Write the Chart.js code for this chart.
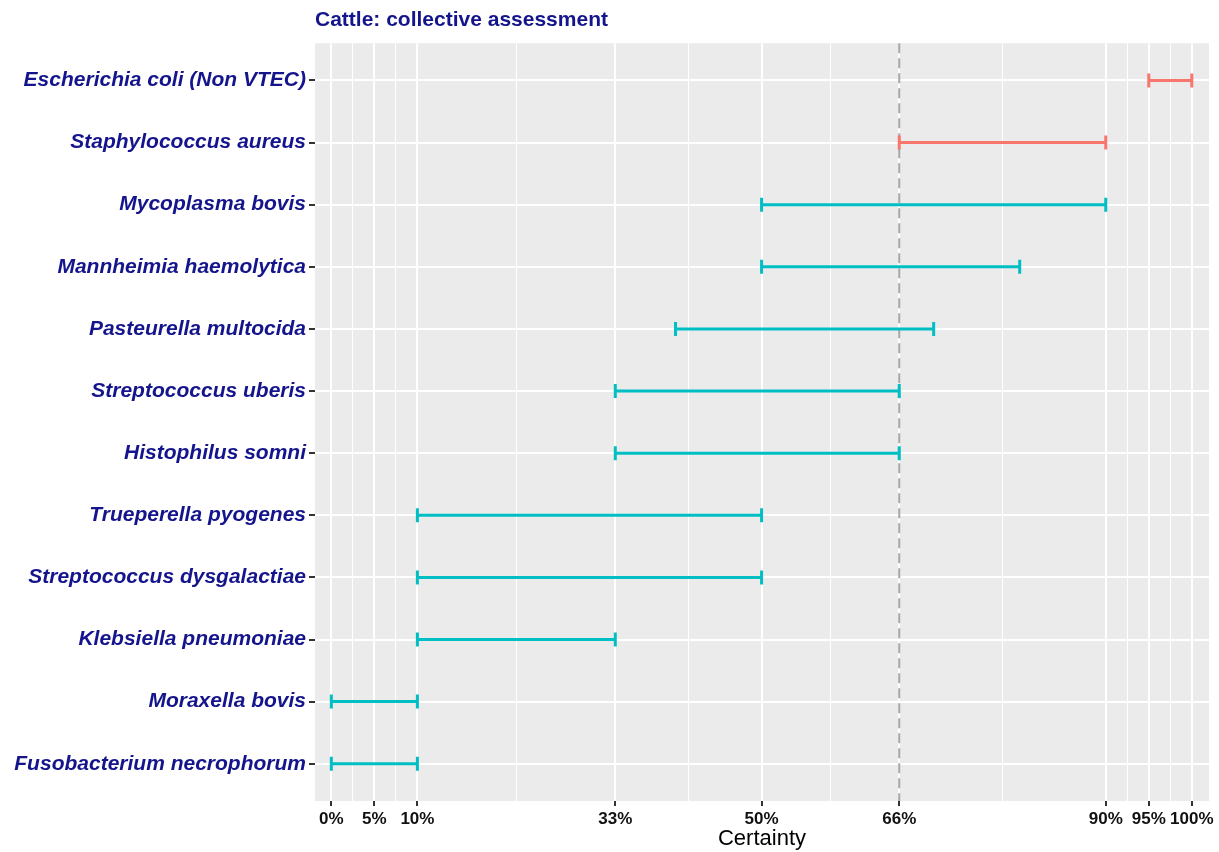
<!DOCTYPE html>
<html>
<head>
<meta charset="utf-8">
<script src="https://cdn.jsdelivr.net/npm/chart.js@4.4.0/dist/chart.umd.min.js"></script>
<style>
html, body { margin: 0; padding: 0; background: #ffffff; }
</style>
</head>
<body>
<canvas id="myChart" width="1219" height="852"></canvas>
<script>
// data
var categories = [
	'Escherichia coli (Non VTEC)',
	'Staphylococcus aureus',
	'Mycoplasma bovis',
	'Mannheimia haemolytica',
	'Pasteurella multocida',
	'Streptococcus uberis',
	'Histophilus somni',
	'Trueperella pyogenes',
	'Streptococcus dysgalactiae',
	'Klebsiella pneumoniae',
	'Moraxella bovis',
	'Fusobacterium necrophorum'
];
var lowerValues = [95, 66, 50, 50, 40, 33, 33, 10, 10, 10, 0, 0];
var upperValues = [100, 90, 90, 80, 70, 66, 66, 50, 50, 33, 10, 10];
var groups = ['high', 'high', 'low', 'low', 'low', 'low', 'low', 'low', 'low', 'low', 'low', 'low'];
var majorTicks = [0, 5, 10, 33, 50, 66, 90, 95, 100];
var minorTicks = [2.5, 7.5, 21.5, 41.5, 58, 78, 92.5, 97.5];
var thresholdValue = 66;

var groupColors = { high: '#F8766D', low: '#00BFC4' };
var labelColor = '#14148C';

function _buildDatasets() {
	var datasets = new Array();
	categories.forEach(function(name, i) {
		var color = groupColors[groups[i]];
		datasets.push({
			label: name,
			data: [{ x: lowerValues[i], y: i }, { x: upperValues[i], y: i }],
			borderColor: color,
			backgroundColor: color,
			borderWidth: 3,
			showLine: true,
			pointStyle: 'line',
			rotation: 90,
			pointRadius: 7,
			pointHoverRadius: 7,
			pointBorderWidth: 3
		});
	});
	return datasets;
}

// grey panel + dashed reference line
var panelPlugin = {
	id: 'panel',
	beforeDraw: function(chart) {
		var a = chart.chartArea, ctx = chart.ctx;
		ctx.save();
		ctx.fillStyle = '#EBEBEB';
		ctx.fillRect(a.left, a.top, a.right - a.left, a.bottom - a.top);
		ctx.restore();
	},
	beforeDatasetsDraw: function(chart) {
		var a = chart.chartArea, ctx = chart.ctx;
		var x = chart.scales.x.getPixelForValue(thresholdValue);
		ctx.save();
		ctx.strokeStyle = '#A6A6A6';
		ctx.lineWidth = 2;
		ctx.setLineDash([10, 5]);
		ctx.beginPath();
		ctx.moveTo(x, a.top);
		ctx.lineTo(x, a.bottom);
		ctx.stroke();
		ctx.restore();
	}
};

var allTicks = majorTicks.concat(minorTicks).sort(function(a, b) { return a - b; });

var _config = {
	type: 'scatter',
	data: { datasets: _buildDatasets() },
	options: {
		responsive: false,
		animation: false,
		layout: { padding: { left: 0, right: 10, top: 0, bottom: 0 } },
		plugins: {
			legend: { display: false },
			tooltip: { enabled: false },
			title: {
				display: true,
				text: 'Cattle: collective assessment',
				align: 'start',
				fullSize: false,
				color: labelColor,
				font: { family: 'Liberation Sans, Arial', size: 21, weight: 'bold' },
				padding: { top: 8, bottom: 10 }
			}
		},
		scales: {
			x: {
				type: 'linear',
				min: -1.9,
				max: 102,
				afterBuildTicks: function(scale) {
					scale.ticks = allTicks.map(function(v) { return { value: v }; });
				},
				afterFit: function(scale) { scale.height = 51; },
				border: { display: false },
				grid: {
					color: '#FFFFFF',
					lineWidth: function(ctx) {
						return majorTicks.indexOf(ctx.tick.value) >= 0 ? 2 : 1;
					},
					tickColor: function(ctx) {
						return majorTicks.indexOf(ctx.tick.value) >= 0 ? '#333333' : 'rgba(0,0,0,0)';
					},
					tickLength: 5,
					tickWidth: 2
				},
				ticks: {
					autoSkip: false,
					maxRotation: 0,
					padding: 3,
					color: '#111111',
					font: { family: 'Liberation Sans, Arial', size: 17, weight: 'bold' },
					callback: function(value) {
						return majorTicks.indexOf(value) >= 0 ? value + '%' : '';
					}
				},
				title: {
					display: true,
					text: 'Certainty',
					color: '#000000',
					font: { family: 'Liberation Sans, Arial', size: 22 },
					padding: { top: 0, bottom: 0 }
				}
			},
			y: {
				type: 'linear',
				reverse: true,
				min: -0.6,
				max: categories.length - 0.4,
				afterBuildTicks: function(scale) {
					scale.ticks = categories.map(function(c, i) { return { value: i }; });
				},
				afterFit: function(scale) { scale.width = 315; },
				border: { display: false },
				grid: {
					color: '#FFFFFF',
					lineWidth: 2,
					tickColor: '#333333',
					tickLength: 6,
					tickWidth: 2
				},
				ticks: {
					autoSkip: false,
					padding: 3,
					color: labelColor,
					font: { family: 'Liberation Sans, Arial', size: 21, weight: 'bold', style: 'italic' },
					callback: function(value) {
						return categories[value];
					}
				}
			}
		}
	},
	plugins: [panelPlugin]
};

var myChart = new Chart(document.getElementById('myChart'), _config);
</script>
</body>
</html>
